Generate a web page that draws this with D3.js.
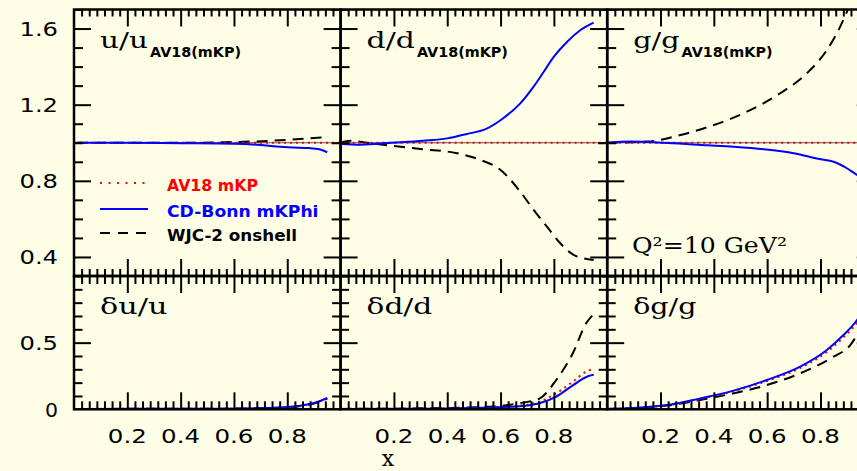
<!DOCTYPE html>
<html><head><meta charset="utf-8">
<script src="https://cdn.jsdelivr.net/npm/d3@7"></script>
<style>html,body{margin:0;padding:0;background:#fefee6;} svg{display:block;}</style>
</head><body><svg id="chart" width="857" height="471"></svg>
<script>
// ---------------- data ----------------
const partons = ["u", "d", "g"];
const subscriptLabel = "AV18(mKP)";
const legendLabels = ["AV18 mKP", "CD-Bonn mKPhi", "WJC-2 onshell"];
const seriesColors = ["#ff0000", "#0000ff", "#000000"];
const xTickValues = [0.2, 0.4, 0.6, 0.8];
const xTickLabels = ["0.2", "0.4", "0.6", "0.8"];
const topYTickValues = [0.4, 0.8, 1.2, 1.6];
const topYTickLabels = ["0.4", "0.8", "1.2", "1.6"];
const botYTickValues = [0, 0.5];
const botYTickLabels = ["0", "0.5"];
const qLabel = "Q²=10 GeV²";
const xAxisLabel = "x";
const unityLine = 1;

// top row: ratios to AV18(mKP)  [x, value]
const uRatioAV18   = [[0, 1], [1, 1]];
const uRatioCDBonn = [[0.01,1.0],[0.2,1.0],[0.4,0.998],[0.6,0.995],[0.7,0.988],[0.76,0.98],[0.82,0.975],[0.88,0.972],[0.92,0.966],[0.95,0.95]];
const uRatioWJC2   = [[0.01,1.0],[0.2,1.0],[0.47,1.0],[0.6,1.004],[0.66,1.006],[0.75,1.011],[0.82,1.017],[0.9,1.025],[0.95,1.03]];
const dRatioAV18   = [[0, 1], [1, 1]];
const dRatioCDBonn = [[0.0,0.995],[0.075,0.99],[0.19,1.0],[0.31,1.011],[0.40,1.023],[0.47,1.045],[0.55,1.076],[0.61,1.129],[0.674,1.207],[0.724,1.295],[0.762,1.373],[0.80,1.452],[0.85,1.531],[0.90,1.592],[0.949,1.631]];
const dRatioWJC2   = [[0.0,1.0],[0.037,1.01],[0.1,1.0],[0.187,0.985],[0.31,0.966],[0.437,0.945],[0.524,0.91],[0.6,0.857],[0.674,0.743],[0.724,0.647],[0.774,0.559],[0.824,0.472],[0.874,0.411],[0.949,0.384]];
const gRatioAV18   = [[0, 1], [1, 1]];
const gRatioCDBonn = [[0,1.0],[0.087,1.006],[0.212,1.0],[0.337,0.99],[0.462,0.98],[0.587,0.966],[0.70,0.945],[0.80,0.913],[0.849,0.90],[0.899,0.866],[0.937,0.831],[0.95,0.82]];
const gRatioWJC2   = [[0,1.0],[0.15,1.006],[0.275,1.041],[0.40,1.093],[0.524,1.163],[0.649,1.26],[0.749,1.365],[0.824,1.487],[0.874,1.61],[0.899,1.688],[0.93,1.8],[0.95,1.88]];

// bottom row: relative nuclear corrections  [x, value]
const uDeltaAV18   = [[0,0.003],[0.5,0.004],[0.7,0.008],[0.8,0.016],[0.86,0.03],[0.9,0.045],[0.95,0.082]];
const uDeltaCDBonn = [[0,0.003],[0.5,0.004],[0.7,0.008],[0.8,0.017],[0.86,0.031],[0.9,0.047],[0.95,0.085]];
const uDeltaWJC2   = [[0,0.003],[0.5,0.004],[0.7,0.008],[0.8,0.015],[0.86,0.028],[0.9,0.043],[0.95,0.08]];
const dDeltaAV18   = [[0,0.003],[0.3,0.005],[0.56,0.015],[0.684,0.03],[0.746,0.057],[0.809,0.12],[0.871,0.207],[0.921,0.282],[0.95,0.305]];
const dDeltaCDBonn = [[0,0.003],[0.3,0.005],[0.56,0.014],[0.684,0.025],[0.746,0.045],[0.809,0.095],[0.871,0.18],[0.93,0.25],[0.95,0.26]];
const dDeltaWJC2   = [[0,0.003],[0.3,0.007],[0.559,0.02],[0.684,0.05],[0.746,0.08],[0.809,0.22],[0.871,0.42],[0.921,0.645],[0.95,0.715]];
const gDeltaAV18   = [[0,0.003],[0.1,0.01],[0.225,0.03],[0.349,0.078],[0.474,0.135],[0.599,0.212],[0.724,0.31],[0.824,0.43],[0.886,0.54],[0.937,0.65],[0.95,0.69]];
const gDeltaCDBonn = [[0,0.003],[0.1,0.01],[0.225,0.032],[0.349,0.082],[0.474,0.14],[0.599,0.22],[0.724,0.32],[0.824,0.445],[0.886,0.557],[0.937,0.67],[0.95,0.71]];
const gDeltaWJC2   = [[0,0.003],[0.1,0.008],[0.225,0.028],[0.349,0.07],[0.474,0.12],[0.599,0.182],[0.724,0.27],[0.849,0.395],[0.911,0.48],[0.937,0.557],[0.95,0.6]];

const ratioSeries = [
  [uRatioAV18, uRatioCDBonn, uRatioWJC2],
  [dRatioAV18, dRatioCDBonn, dRatioWJC2],
  [gRatioAV18, gRatioCDBonn, gRatioWJC2]];
const deltaSeries = [
  [uDeltaAV18, uDeltaCDBonn, uDeltaWJC2],
  [dDeltaAV18, dDeltaCDBonn, dDeltaWJC2],
  [gDeltaAV18, gDeltaCDBonn, gDeltaWJC2]];

// ---------------- layout ----------------
const svg = d3.select("#chart");
const padLeft = 74, colW = 266.6, padTop = 9.5, topH = 266.5, botH = 133.3;
const topDomain = [0.3, 1.7], botDomain = [0, 1];
const serif = "DejaVu Serif", sans = "DejaVu Sans";
const dashStyles = ["2,4", null, "11,7"];
const legendDash = ["2,6.5", null, "10,8"];

svg.append("rect").attr("width", 857).attr("height", 471).attr("fill", "#fefee6");

const defs = svg.append("defs");
const xMinor = d3.range(36).map(i => i / 35).filter(v => v > 0 && v < 1 && Math.abs(v * 5 - Math.round(v * 5)) > 1e-6);
const topMinor = d3.range(3, 18).map(k => k / 10).filter(v => !topYTickValues.some(t => Math.abs(t - v) < 1e-6));
const botMinor = d3.range(1, 10).map(k => k / 10).filter(v => Math.abs(v - 0.5) > 1e-6);

function tickAxis(g, axis, vals, size) {
  g.call(axis.tickValues(vals).tickSize(size).tickFormat(""));
  g.select(".domain").remove();
  g.selectAll("line").attr("stroke", "#000").attr("stroke-width", 2);
}

const rows = [
  {y0: padTop, h: topH, domain: topDomain, major: topYTickValues, minor: topMinor, minorLen: 9, xMinorLen: 7, series: ratioSeries},
  {y0: padTop + topH, h: botH, domain: botDomain, major: [0.5], minor: botMinor, minorLen: 8.5, xMinorLen: 8, series: deltaSeries}
];

rows.forEach((row, r) => {
  partons.forEach((p, c) => {
    const x0 = padLeft + c * colW;
    const x = d3.scaleLinear().domain([0, 1]).range([x0, x0 + colW]);
    const y = d3.scaleLinear().domain(row.domain).range([row.y0 + row.h, row.y0]);
    const id = `clip-${r}-${c}`;
    defs.append("clipPath").attr("id", id).append("rect")
      .attr("x", x0).attr("y", row.y0).attr("width", colW).attr("height", row.h);
    const g = svg.append("g");
    const plot = g.append("g").attr("clip-path", `url(#${id})`);

    if (r === 0) {
      plot.append("line").attr("x1", x(0)).attr("x2", x(1)).attr("y1", y(unityLine)).attr("y2", y(unityLine))
        .attr("stroke", "#555").attr("stroke-width", 1);
    }
    const line = d3.line().x(d => x(d[0])).y(d => y(d[1])).curve(d3.curveMonotoneX);
    const order = [2, 0, 1];
    order.forEach(s => {
      plot.append("path").datum(row.series[c][s])
        .attr("d", line).attr("fill", "none")
        .attr("stroke", seriesColors[s]).attr("stroke-width", 2)
        .attr("stroke-dasharray", dashStyles[s]);
    });

    // ticks (inward on all four edges)
    const tk = g.append("g");
    tickAxis(tk.append("g").attr("transform", `translate(0,${row.y0})`), d3.axisBottom(x), xMinor, row.xMinorLen);
    tickAxis(tk.append("g").attr("transform", `translate(0,${row.y0})`), d3.axisBottom(x), xTickValues, 17);
    tickAxis(tk.append("g").attr("transform", `translate(0,${row.y0 + row.h})`), d3.axisTop(x), xMinor, row.xMinorLen);
    tickAxis(tk.append("g").attr("transform", `translate(0,${row.y0 + row.h})`), d3.axisTop(x), xTickValues, 17);
    tickAxis(tk.append("g").attr("transform", `translate(${x0},0)`), d3.axisRight(y), row.minor, row.minorLen);
    tickAxis(tk.append("g").attr("transform", `translate(${x0},0)`), d3.axisRight(y), row.major, 17);
    tickAxis(tk.append("g").attr("transform", `translate(${x0 + colW},0)`), d3.axisLeft(y), row.minor, row.minorLen);
    tickAxis(tk.append("g").attr("transform", `translate(${x0 + colW},0)`), d3.axisLeft(y), row.major, 17);

    g.append("rect").attr("x", x0).attr("y", row.y0).attr("width", colW).attr("height", row.h)
      .attr("fill", "none").attr("stroke", "#000").attr("stroke-width", 2.5);

    // panel labels
    const lx = x0 + 26;
    if (r === 0) {
      const mainW = [48, 48.3, 46.3][c];
      svg.append("text").attr("x", lx).attr("y", 48.3)
        .attr("font-family", serif).attr("font-size", 23)
        .attr("textLength", mainW).attr("lengthAdjust", "spacingAndGlyphs")
        .text(`${p}/${p}`);
      svg.append("text").attr("x", lx + mainW + 2).attr("y", 57.3)
        .attr("font-family", sans).attr("font-weight", "bold").attr("font-size", 14.5)
        .attr("textLength", 91).attr("lengthAdjust", "spacingAndGlyphs")
        .text(subscriptLabel);
    } else {
      svg.append("text").attr("x", lx).attr("y", 314)
        .attr("font-family", serif).attr("font-size", 23)
        .attr("textLength", [67.4, 65.7, 63.3][c]).attr("lengthAdjust", "spacingAndGlyphs")
        .text(`δ${p}/${p}`);
    }

    // x tick labels (bottom row)
    if (r === 1) {
      xTickValues.forEach((v, i) => {
        svg.append("text").attr("x", x(v)).attr("y", 442.7).attr("text-anchor", "middle")
          .attr("font-family", sans).attr("font-size", 19)
          .attr("textLength", 39).attr("lengthAdjust", "spacingAndGlyphs")
          .text(xTickLabels[i]);
      });
    }
    // y tick labels (first column)
    if (c === 0) {
      const vals = r === 0 ? topYTickValues : botYTickValues;
      const labs = r === 0 ? topYTickLabels : botYTickLabels;
      vals.forEach((v, i) => {
        const t = svg.append("text").attr("x", 58).attr("y", y(v) + 7.2).attr("text-anchor", "end")
          .attr("font-family", sans).attr("font-size", 19).text(labs[i]);
        if (labs[i].length > 1) t.attr("textLength", 38.5).attr("lengthAdjust", "spacingAndGlyphs");
        else t.attr("textLength", 13).attr("lengthAdjust", "spacingAndGlyphs");
      });
    }
  });
});

// legend
const legY = [183, 209, 233];
const legW = [91, 151.5, 130];
legendLabels.forEach((lab, i) => {
  svg.append("line").attr("x1", 100).attr("x2", 148).attr("y1", legY[i]).attr("y2", legY[i])
    .attr("stroke", seriesColors[i]).attr("stroke-width", 2).attr("stroke-dasharray", legendDash[i]);
  svg.append("text").attr("x", 167).attr("y", legY[i] + 7.5)
    .attr("font-family", sans).attr("font-weight", "bold").attr("font-size", 15.5)
    .attr("fill", seriesColors[i])
    .attr("textLength", legW[i]).attr("lengthAdjust", "spacingAndGlyphs").text(lab);
});

// Q^2 label
svg.append("text").attr("x", 632).attr("y", 253)
  .attr("font-family", serif).attr("font-size", 22)
  .attr("textLength", 155).attr("lengthAdjust", "spacingAndGlyphs").text(qLabel);

// x axis label
svg.append("text").attr("x", 388).attr("y", 466).attr("text-anchor", "middle")
  .attr("font-family", serif).attr("font-size", 22).text(xAxisLabel);
</script></body></html>
